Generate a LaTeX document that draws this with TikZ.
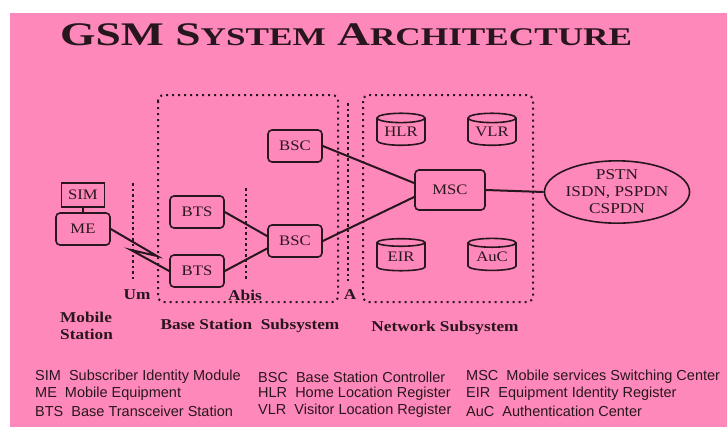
\documentclass[tikz,border=0pt]{standalone}
\usepackage{fontspec}
\setmainfont{Liberation Serif}
\newfontfamily\boxfont[FakeStretch=1.15]{Liberation Serif}
\newfontfamily\headfont[FakeStretch=1.38]{Liberation Serif}
\newfontfamily\legfont{Liberation Sans}
\usetikzlibrary{shapes.geometric}

\definecolor{slide}{RGB}{255,136,186}
\definecolor{ink}{RGB}{40,22,30}

\newcommand{\smallcap}[1]{{\fontsize{25.5}{30}\selectfont #1}}

\tikzset{
  unit/.style={draw=ink, line width=1.6pt, rounded corners=4pt,
    minimum width=54pt, minimum height=32pt, inner sep=0pt, text=ink,
    font=\boxfont\fontsize{14.5}{16}\selectfont},
  card/.style={unit, rounded corners=0pt, minimum width=43pt, minimum height=24pt},
  register/.style={cylinder, shape border rotate=90, aspect=0.28, draw=ink,
    line width=1.6pt, minimum width=48pt, minimum height=32pt, inner sep=0pt,
    text=ink, font=\boxfont\fontsize{14.5}{16}\selectfont},
  cloud/.style={ellipse, draw=ink, line width=1.6pt, minimum width=136pt,
    minimum height=61pt, inner sep=0pt, align=center, text=ink,
    font=\boxfont\fontsize{15}{17}\selectfont},
  link/.style={draw=ink, line width=2pt},
  area/.style={draw=ink, line width=2pt, rounded corners=6pt,
    dash pattern=on 2pt off 4pt},
  iface/.style={draw=ink, line width=1.8pt, dash pattern=on 2.5pt off 3pt},
  tag/.style={text=ink, inner sep=0pt, font=\boxfont\bfseries\fontsize{15}{17}\selectfont},
  legend/.style={anchor=west, inner sep=0pt, text=ink,
    font=\legfont\fontsize{14.5}{16}\selectfont}
}

\begin{document}
\begin{tikzpicture}[x=1pt, y=-1pt]
\useasboundingbox (0,0) rectangle (727,434);
\fill[slide] (10,13) rectangle (727,427);

\node (title) [anchor=base west, inner sep=0pt, text=ink]
  at (60,45) {\headfont\bfseries\fontsize{33}{36}\selectfont
  GSM S\smallcap{YSTEM} A\smallcap{RCHITECTURE}};

% subsystem frames and interfaces
\draw[area] (158,95) rectangle (338,302);
\draw[area] (363,95) rectangle (533,302);
\draw[iface] (133,183) -- (133,281);
\draw[iface] (246,188) -- (246,281);
\draw[iface] (348,103) -- (348,281);

% mobile station
\node (sim) [card] at (83,195) {SIM};
\node (me) [unit] at (83,229) {ME};

% base station subsystem
\node (btsa) [unit] at (197,212) {BTS};
\node (btsb) [unit] at (197,271) {BTS};
\node (bsca) [unit] at (295,146) {BSC};
\node (bscb) [unit] at (295,241) {BSC};

% network subsystem
\node (msc) [unit, minimum width=70pt, minimum height=40pt] at (450,190) {MSC};
\node (hlr) [register] at (401,132) {\raisebox{-2pt}{HLR}};
\node (vlr) [register] at (492,132) {\raisebox{-2pt}{VLR}};
\node (eir) [register] at (401,257) {\raisebox{-2pt}{EIR}};
\node (auc) [register] at (492,257) {\raisebox{-2pt}{AuC}};
\node (pstn) [cloud] at (617,192) {PSTN\\ISDN, PSPDN\\CSPDN};

\coordinate (zz1) at (157,256);
\coordinate (zz2) at (131,250);

\draw[link] (sim) -- (me);
\draw[link] (me.east) -- (zz1) -- (zz2) -- (btsb.west);
\draw[link] (btsa.east) -- (bscb.170);
\draw[link] (btsb.east) -- (bscb.195);
\draw[link] (bsca.east) -- (msc.169);
\draw[link] (bscb.east) -- (msc.191);
\draw[link] (msc.east) -- (pstn.west);

% interface names
\node (um) [tag] at (137,295) {Um};
\node (abis) [tag] at (245,295) {Abis};
\node (a) [tag] at (350,295) {A};

% subsystem names
\node (ms) [tag, anchor=west, align=left, font=\boxfont\bfseries\fontsize{15}{17}\selectfont]
  at (60,326) {Mobile\\Station};
\node (bss) [tag] at (250,326) {Base Station\ \ Subsystem};
\node (nss) [tag] at (445,328) {Network Subsystem};

% abbreviations
\node (l1) [legend] at (35,377) {SIM\ \ Subscriber Identity Module};
\node (l2) [legend] at (35,394) {ME\ \ Mobile Equipment};
\node (l3) [legend] at (35,411) {BTS\ \ Base Transceiver Station};
\node (l4) [legend] at (258,377) {BSC\ \ Base Station Controller};
\node (l5) [legend] at (258,394) {HLR\ \ Home Location Register};
\node (l6) [legend] at (258,411) {VLR\ \ Visitor Location Register};
\node (l7) [legend] at (466,377) {MSC\ \ Mobile services Switching Center};
\node (l8) [legend] at (466,394) {EIR\ \ Equipment Identity Register};
\node (l9) [legend] at (466,411) {AuC\ \ Authentication Center};
\end{tikzpicture}
\end{document}
